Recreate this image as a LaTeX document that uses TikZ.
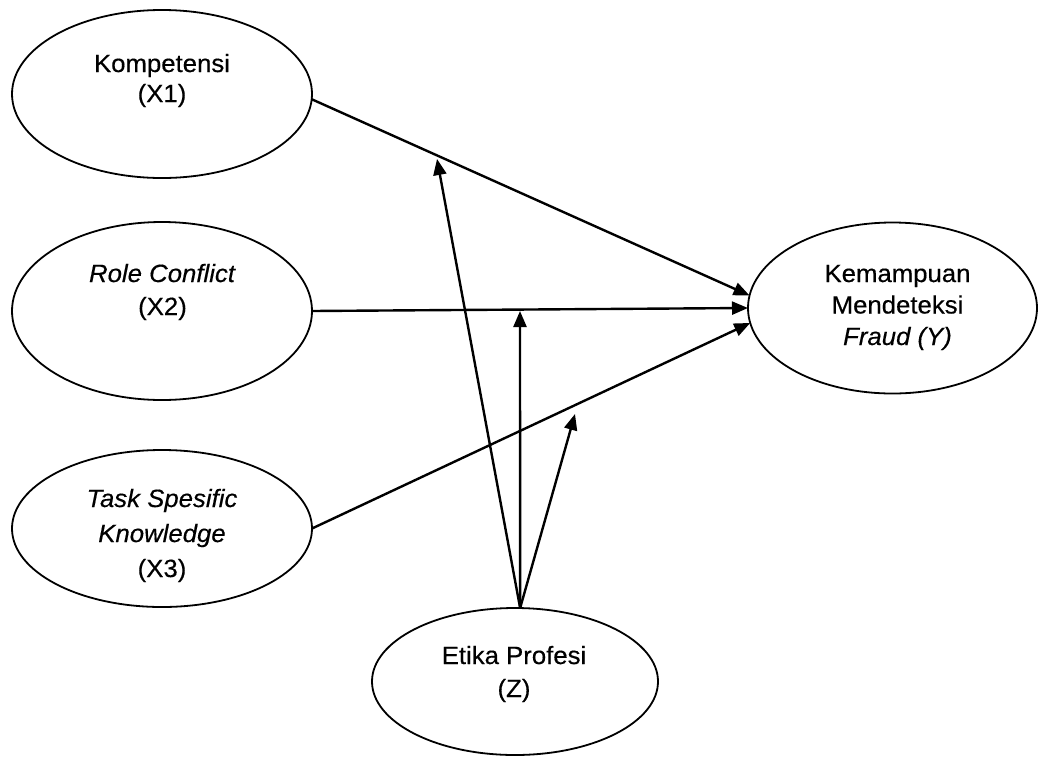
\documentclass[tikz,border=0pt]{standalone}
\usepackage{fontspec}
\setmainfont[FakeStretch=1.03,FakeBold=0.4]{Liberation Sans}
\usetikzlibrary{shapes.geometric,arrows.meta}
\begin{document}
\begin{tikzpicture}[x=1pt,y=-1pt,
  var/.style={ellipse,draw,line width=1.8pt,inner sep=0pt,outer sep=0pt},
  lbl/.style={align=center,anchor=base,inner sep=0pt},
  arr/.style={line width=2.4pt,-{Triangle[length=16pt,width=13pt]}}]
\useasboundingbox (0,0) rectangle (1039,756);
% ellipses
\node[var,minimum width=300pt,minimum height=168pt] (X1) at (162,94) {};
\node[var,minimum width=300pt,minimum height=178pt] (X2) at (162,311) {};
\node[var,minimum width=300pt,minimum height=157pt] (X3) at (162,528.5) {};
\node[var,minimum width=289pt,minimum height=171pt] (Y) at (892.5,308) {};
\node[var,minimum width=286pt,minimum height=147pt] (Z) at (515,681.5) {};
% labels (base anchor = baseline of the last line)
\node[lbl,font=\fontsize{25}{30}\selectfont] (tX1) at (162,102) {Kompetensi\\(X1)};
\node[lbl,font=\fontsize{25}{33}\selectfont] (tX2) at (162.5,315) {\textit{Role Conflict}\\(X2)};
\node[lbl,font=\fontsize{25}{35}\selectfont] (tX3) at (162,577) {\textit{Task Spesific}\\\textit{Knowledge}\\(X3)};
\node[lbl,font=\fontsize{25}{31.5}\selectfont] (tY) at (897.5,345) {Kemampuan\\Mendeteksi\\\textit{Fraud (Y)}};
\node[lbl,font=\fontsize{25}{33}\selectfont] (tZ) at (514,697) {Etika Profesi\\(Z)};
% connectors
\draw[arr] (X1.-2.3) -- (Y.175.6);
\draw[arr] (X2.east) -- (Y.west);
\draw[arr] (X3.0) -- (Y.186.85);
\coordinate (zt) at (Z.86);
\coordinate (m1) at (437,159);
\coordinate (m2) at (520,311);
\coordinate (m3) at (575,414);
\draw[arr] (zt) -- (m1);
\draw[arr] (zt) -- (m2);
\draw[arr] (zt) -- (m3);
\end{tikzpicture}
\end{document}
